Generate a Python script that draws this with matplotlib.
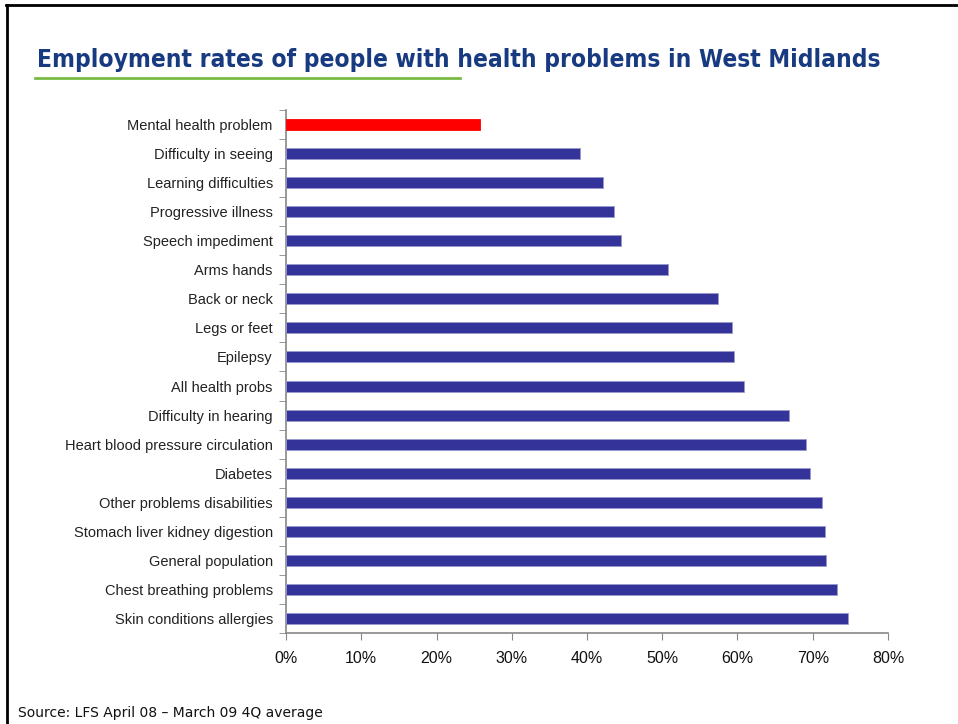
import matplotlib.pyplot as plt
from matplotlib.lines import Line2D
from matplotlib.ticker import PercentFormatter

categories = [
    "Mental health problem",
    "Difficulty in seeing",
    "Learning difficulties",
    "Progressive illness",
    "Speech impediment",
    "Arms hands",
    "Back or neck",
    "Legs or feet",
    "Epilepsy",
    "All health probs",
    "Difficulty in hearing",
    "Heart blood pressure circulation",
    "Diabetes",
    "Other problems disabilities",
    "Stomach liver kidney digestion",
    "General population",
    "Chest breathing problems",
    "Skin conditions allergies",
]
rates = [25.8, 39.1, 42.1, 43.6, 44.5, 50.8, 57.4, 59.3, 59.5, 60.9,
         66.8, 69.1, 69.6, 71.2, 71.6, 71.8, 73.2, 74.7]
x_ticks = [0, 10, 20, 30, 40, 50, 60, 70, 80]


def main():
    fig = plt.figure(figsize=(9.58, 7.24), dpi=100)
    W, H = 958, 724
    ax = fig.add_axes([286 / W, 1 - 633 / H, (888 - 286) / W, (633 - 110) / H])

    colors = ["#FF0000"] + ["#333399"] * (len(rates) - 1)
    y = list(range(len(categories)))
    ax.barh(y, rates, height=0.38, color=colors,
            edgecolor=["#FF0000"] + ["#9999CC"] * (len(rates) - 1),
            linewidth=0.6, zorder=3)

    ax.set_ylim(len(categories) - 0.5, -0.5)
    ax.set_xlim(0, 80)
    ax.set_yticks(y)
    ax.set_yticklabels(categories, fontsize=10.5, color="#222222",
                       family="Liberation Sans")
    ax.set_yticks([i - 0.5 for i in range(len(categories) + 1)], minor=True)
    ax.tick_params(axis="y", which="major", length=0, pad=9.5)
    ax.tick_params(axis="y", which="minor", length=5, color="#888888",
                   direction="out")

    ax.set_xticks(x_ticks)
    ax.xaxis.set_major_formatter(PercentFormatter(decimals=0))
    ax.tick_params(axis="x", length=5, color="#888888", pad=8,
                   labelsize=11.5, labelcolor="#111111")
    for lbl in ax.get_xticklabels():
        lbl.set_family("Liberation Sans")

    for side in ("top", "right"):
        ax.spines[side].set_visible(False)
    for side in ("left", "bottom"):
        ax.spines[side].set_color("#888888")
        ax.spines[side].set_linewidth(1.2)

    fig.text(37 / W, 1 - 60 / H, "Employment rates of people with health problems in West Midlands",
             fontsize=17.6, fontweight="bold", color="#183A80",
             family="DejaVu Sans", va="center", ha="left", fontstretch="condensed")
    fig.add_artist(Line2D([35 / W, 460 / W], [1 - 78 / H, 1 - 78 / H],
                          color="#77BB44", linewidth=2))

    fig.text(18 / W, 1 - 713 / H, "Source: LFS April 08 \u2013 March 09 4Q average",
             fontsize=10, color="#111111", family="DejaVu Sans",
             va="center", ha="left")

    # slide border
    fig.add_artist(Line2D([6 / W, 1], [1 - 5 / H, 1 - 5 / H], color="black", linewidth=2))
    fig.add_artist(Line2D([7 / W, 7 / W], [0, 1 - 5 / H], color="black", linewidth=2))

    fig.savefig("out.png", dpi=100)


if __name__ == '__main__':
    main()
